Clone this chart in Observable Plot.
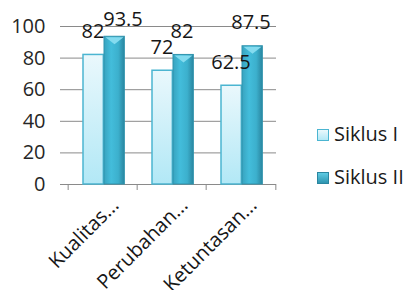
<!DOCTYPE html>
<html><head><meta charset="utf-8">
<script src="https://cdn.jsdelivr.net/npm/d3@7"></script>
<script src="https://cdn.jsdelivr.net/npm/@observablehq/plot@0.6"></script>
<style>
html,body{margin:0;padding:0;background:#fff;}
#wrap{position:relative;width:409px;height:290px;font-family:"Open Sans",sans-serif;}
.leg{position:absolute;left:317px;font-size:20px;line-height:20px;color:#1a1a1a;white-space:nowrap;}
.sw{display:inline-block;width:12px;height:12px;box-sizing:border-box;margin-right:5px;vertical-align:baseline;}
</style></head><body>
<svg width="0" height="0" style="position:absolute">
  <defs>
    <linearGradient id="g1" x1="0" y1="0" x2="0" y2="1">
      <stop offset="0%" stop-color="#eaf8fc"/>
      <stop offset="100%" stop-color="#b2e8f6"/>
    </linearGradient>
    <linearGradient id="g2" x1="0" y1="0" x2="1" y2="0">
      <stop offset="0%" stop-color="#38a3bf"/>
      <stop offset="35%" stop-color="#43bddb"/>
      <stop offset="70%" stop-color="#3cb0cd"/>
      <stop offset="100%" stop-color="#2a86a0"/>
    </linearGradient>
  </defs>
</svg>
<div id="wrap"></div>
<script>
const categories = ["Kualitas...", "Perubahan...", "Ketuntasan..."];
const seriesNames = ["Siklus I", "Siklus II"];
const siklusI = [82, 72, 62.5];
const siklusII = [93.5, 82, 87.5];
const yTicks = [0, 20, 40, 60, 80, 100];

const rows = categories.map((c, i) => ({cat: c, s1: siklusI[i], s2: siklusII[i]}));

const W = 409, H = 290, mL = 67, mR = 133, mT = 26, mB = 106;
const bw = (W - mL - mR) / categories.length;
const gridColor = "#8a8a8a";
const textColor = "#161616";

const capSymbol = {draw(ctx) { ctx.moveTo(-9, -3.5); ctx.lineTo(9, -3.5); ctx.lineTo(0, 3.5); ctx.closePath(); }};

const chart = Plot.plot({
  width: W, height: H,
  marginLeft: mL, marginRight: mR, marginTop: mT, marginBottom: mB,
  style: {fontFamily: "'Open Sans', sans-serif", fontSize: "20px", color: "#262626", background: "transparent", overflow: "visible"},
  x: {type: "band", domain: categories, padding: 0, axis: null},
  y: {domain: [0, 100], ticks: yTicks, tickSize: 0, tickPadding: 22, label: null},
  marks: [
    Plot.ruleY(yTicks, {y: d => d, stroke: gridColor, strokeWidth: 1, insetLeft: -7}),
    Plot.ruleX(categories, {x: d => d, dx: -bw / 2, insetTop: H - mT - mB, insetBottom: -6, stroke: gridColor}),
    Plot.ruleX(categories.slice(-1), {x: d => d, dx: bw / 2, insetTop: H - mT - mB, insetBottom: -6, stroke: gridColor}),
    Plot.barY(rows, {x: "cat", y: "s1", insetLeft: 15, insetRight: bw - 36, fill: "url(#g1)", stroke: "#4bb5d1", strokeWidth: 1.5}),
    Plot.barY(rows, {x: "cat", y: "s2", insetLeft: 36, insetRight: bw - 57, fill: "url(#g2)", stroke: "#2f93ad", strokeWidth: 1}),
    Plot.dot(rows, {x: "cat", y: "s2", dx: 11.5, dy: 4, symbol: capSymbol, fill: "#84dbef", stroke: "none"}),
    Plot.text(rows, {x: "cat", y: "s1", text: d => String(d.s1), dx: -10, dy: -17, lineAnchor: "bottom", fontSize: 20, fill: textColor}),
    Plot.text(rows, {filter: (d, i) => i !== 0, x: "cat", y: "s2", text: d => String(d.s2), dx: 10, dy: -17, lineAnchor: "bottom", fontSize: 20, fill: textColor}),
    Plot.text(rows, {filter: (d, i) => i === 0, x: "cat", y: "s2", text: d => String(d.s2), dx: 20, dy: -11, lineAnchor: "bottom", fontSize: 20, fill: textColor}),
    Plot.text(categories, {x: d => d, text: d => d, frameAnchor: "bottom", rotate: -45, textAnchor: "end", lineAnchor: "bottom", dx: 17, dy: 22, fontSize: 20, fill: textColor})
  ]
});
chart.style.position = "absolute";
chart.style.left = "0px";
chart.style.top = "0px";
const wrap = document.getElementById("wrap");
wrap.appendChild(chart);

const swatchStyles = [
  {background: "linear-gradient(#eaf8fc,#b2e8f6)", border: "1.5px solid #4bb5d1"},
  {background: "linear-gradient(#5fcbe3,#2f95b0)", border: "1px solid #2a86a0"}
];
const legTops = [124, 167];
seriesNames.forEach((name, i) => {
  const row = document.createElement("div");
  row.className = "leg";
  row.style.top = legTops[i] + "px";
  const sw = document.createElement("span");
  sw.className = "sw";
  sw.style.background = swatchStyles[i].background;
  sw.style.border = swatchStyles[i].border;
  row.appendChild(sw);
  row.appendChild(document.createTextNode(name));
  wrap.appendChild(row);
});
</script>
</body></html>
